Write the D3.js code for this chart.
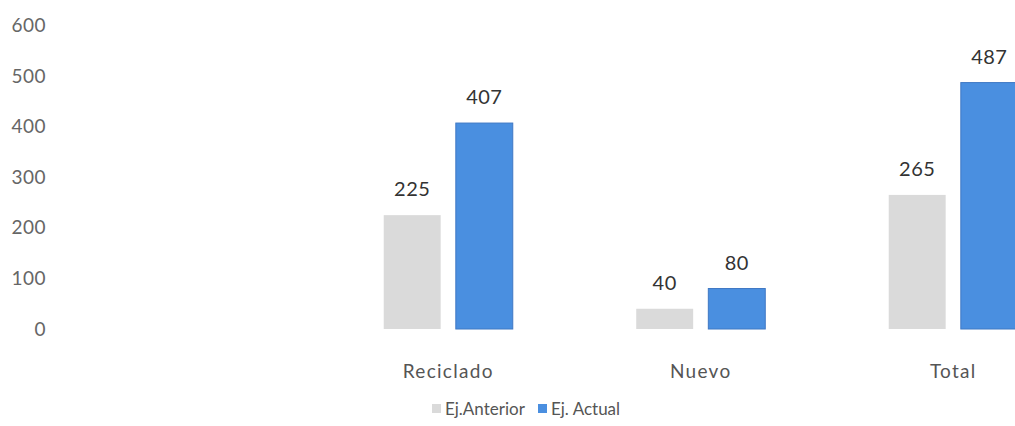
<!DOCTYPE html>
<html><head><meta charset="utf-8">
<script src="https://cdn.jsdelivr.net/npm/d3@7"></script>
<style>body{margin:0;background:#fff}svg{display:block}text{font-family:Lato,"Open Sans",sans-serif}</style>
</head><body>
<div id="chart"></div>
<script>
const categories = ["Reciclado", "Nuevo", "Total"];
const seriesNames = ["Ej.Anterior", "Ej. Actual"];
const anterior = [225, 40, 265];
const actual = [407, 80, 487];
const yTicks = [0, 100, 200, 300, 400, 500, 600];
const colors = ["#dadada", "#4a8fe0"];

const W = 1015, H = 426;
const svg = d3.select("#chart").append("svg").attr("width", W).attr("height", H);

const y = d3.scaleLinear().domain([0, 600]).range([329, 25.4]);
const x0 = d3.scaleBand().domain(categories).range([322, 1079.5]).paddingInner(0.489).paddingOuter(0.2445);
const x1 = d3.scaleBand().domain(seriesNames).range([0, x0.bandwidth()]).paddingInner(0.21);

const yAxis = d3.axisLeft(y).tickValues(yTicks).tickSize(0).tickPadding(0);
const gy = svg.append("g").attr("transform", "translate(46,0)").call(yAxis);
gy.select(".domain").remove();
gy.selectAll("text").attr("fill", "#666").style("font-size", "19px").style("font-family", "Lato,sans-serif").style("letter-spacing", "0.5px");

const rows = categories.map((c, i) => ({cat: c, vals: [anterior[i], actual[i]]}));
const groups = svg.append("g").selectAll("g").data(rows).join("g")
  .attr("transform", d => `translate(${x0(d.cat)},0)`);

groups.selectAll("rect").data(d => d.vals.map((v, j) => ({s: seriesNames[j], v, j}))).join("rect")
  .attr("x", d => x1(d.s)).attr("width", x1.bandwidth())
  .attr("y", d => y(d.v)).attr("height", d => y(0) - y(d.v))
  .attr("fill", d => colors[d.j])
  .attr("stroke", d => d.j === 1 ? "#3f78c4" : "none").attr("stroke-width", 1);

groups.selectAll("text.val").data(d => d.vals.map((v, j) => ({s: seriesNames[j], v, j}))).join("text")
  .attr("class", "val")
  .attr("x", d => x1(d.s) + x1.bandwidth() / 2).attr("y", d => y(d.v) - 19)
  .attr("text-anchor", "middle").attr("fill", "#333").style("font-size", "20px").style("letter-spacing", "0.5px")
  .text(d => d.v);

const xAxis = d3.axisBottom(x0).tickSize(0).tickPadding(0);
const gx = svg.append("g").attr("transform", "translate(0,362)").call(xAxis);
gx.select(".domain").remove();
gx.selectAll("text").attr("fill", "#555").style("font-size", "19px").style("font-family", "Lato,sans-serif").style("letter-spacing", "1.3px").attr("dy", "0.85em");

const legend = svg.append("g").attr("transform", "translate(432,409)");
const legX = [0, 106];
seriesNames.forEach((n, i) => {
  const g = legend.append("g").attr("transform", `translate(${legX[i]},0)`);
  g.append("rect").attr("x", 0).attr("y", -5).attr("width", 9).attr("height", 9).attr("fill", colors[i]);
  g.append("text").attr("x", 13).attr("y", 0).attr("dy", "0.35em").attr("fill", "#555").style("font-size", "17px").text(n);
});
</script>
</body></html>
